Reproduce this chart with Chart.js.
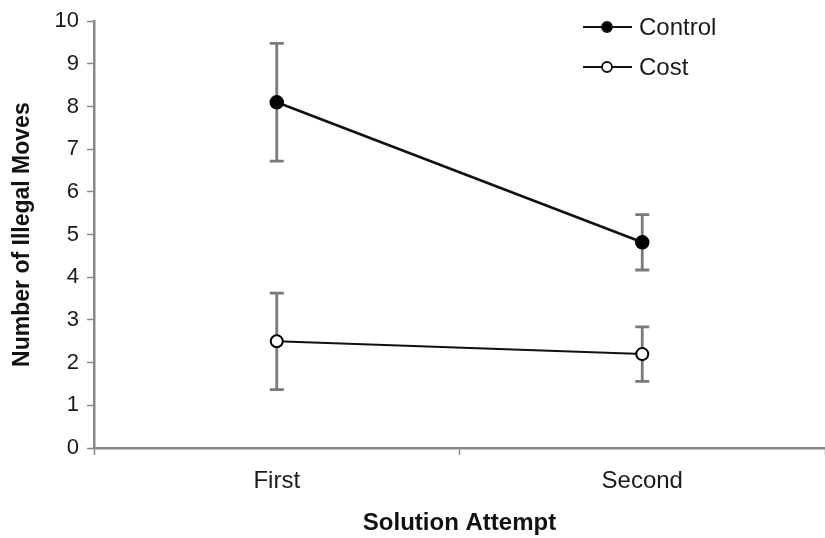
<!DOCTYPE html>
<html>
<head>
<meta charset="utf-8">
<script src="https://cdn.jsdelivr.net/npm/chart.js@4"></script>
<style>
    html, body { margin: 0; padding: 0; background: #fff; }
    #wrap { width: 825px; height: 538px; }
</style>
</head>
<body>
<div id="wrap"><canvas id="movesChart"></canvas></div>
<script>
const categories = ['First', 'Second'];
const seriesNames = ['Control', 'Cost'];
const controlMeans = [8.1, 4.82];
const controlErrors = [1.38, 0.65];
const costMeans = [2.5, 2.2];
const costErrors = [1.13, 0.64];
const yTicks = [0, 1, 2, 3, 4, 5, 6, 7, 8, 9, 10];

const fontFamily = '"Liberation Sans", Arial, sans-serif';

// error bars drawn under the markers
const errorBars = {
    id: 'errorBars',
    beforeDatasetsDraw(chart) {
        let ctx = chart.ctx;
        let x = chart.scales.x;
        let y = chart.scales.y;
        ctx.save();
        ctx.strokeStyle = '#7a7a7a';
        ctx.lineWidth = 2.8;
        chart.data.datasets.forEach(ds => {
            ds.data.forEach((v, i) => {
                let px = x.getPixelForValue(i);
                let top = y.getPixelForValue(v + ds.errors[i]);
                let bot = y.getPixelForValue(v - ds.errors[i]);
                ctx.beginPath();
                ctx.moveTo(px, top); ctx.lineTo(px, bot);
                ctx.moveTo(px - 7, top); ctx.lineTo(px + 7, top);
                ctx.moveTo(px - 7, bot); ctx.lineTo(px + 7, bot);
                ctx.stroke();
            });
        });
        ctx.restore();
    }
};

// legend with line + marker, placed inside the plot
const lineLegend = {
    id: 'lineLegend',
    afterDraw(chart) {
        let ctx = chart.ctx;
        ctx.save();
        chart.data.datasets.forEach((ds, i) => {
            let cy = 27 + i * 40;
            ctx.strokeStyle = '#111';
            ctx.lineWidth = 2.2;
            ctx.beginPath();
            ctx.moveTo(583, cy); ctx.lineTo(632, cy);
            ctx.stroke();
            ctx.beginPath();
            ctx.arc(607, cy, 5, 0, Math.PI * 2);
            ctx.fillStyle = ds.pointBackgroundColor;
            ctx.fill();
            ctx.lineWidth = 1.8;
            ctx.stroke();
            ctx.fillStyle = '#1a1a1a';
            ctx.font = '24px ' + fontFamily;
            ctx.textBaseline = 'middle';
            ctx.fillText(ds.label, 639, cy + 1);
        });
        ctx.restore();
    }
};

let ctx = document.getElementById('movesChart').getContext('2d');
let myChart = new Chart(ctx, {
    type: 'line',
    data: {
        labels: categories,
        datasets: [{
            label: seriesNames[0],
            data: controlMeans,
            errors: controlErrors,
            borderColor: '#111',
            borderWidth: 2.5,
            pointRadius: 6.5,
            pointBackgroundColor: '#000',
            pointBorderColor: '#000',
            pointBorderWidth: 1.5
        }, {
            label: seriesNames[1],
            data: costMeans,
            errors: costErrors,
            borderColor: '#111',
            borderWidth: 2,
            pointRadius: 6,
            pointBackgroundColor: '#fff',
            pointBorderColor: '#000',
            pointBorderWidth: 2
        }]
    },
    options: {
        responsive: true,
        maintainAspectRatio: false,
        animation: false,
        layout: { autoPadding: false, padding: { top: 18, right: -4, left: 0, bottom: 0 } },
        plugins: {
            legend: { display: false },
            tooltip: { enabled: false }
        },
        scales: {
            x: {
                offset: true,
                grid: { offset: true, drawOnChartArea: false, color: '#888', tickLength: 7, tickWidth: 1.5 },
                border: { color: '#888', width: 2.5 },
                ticks: { color: '#1a1a1a', padding: 12, font: { family: fontFamily, size: 24 } },
                title: {
                    display: true, text: 'Solution Attempt', color: '#111', padding: { top: 0, bottom: 0 },
                    font: { family: fontFamily, size: 24, weight: 'bold' }
                },
                afterFit(scale) { scale.height = 90; }
            },
            y: {
                min: 0,
                max: 10,
                afterBuildTicks(scale) { scale.ticks = yTicks.map(v => ({ value: v })); },
                grid: { drawOnChartArea: false, color: '#888', tickLength: 7, tickWidth: 1.5 },
                border: { color: '#888', width: 2.5 },
                ticks: { color: '#1a1a1a', padding: 8, font: { family: fontFamily, size: 22 } },
                title: {
                    display: true, text: 'Number of Illegal Moves', color: '#111', padding: { top: 9, bottom: 0 },
                    font: { family: fontFamily, size: 23, weight: 'bold' }
                },
                afterFit(scale) { scale.width = 94; }
            }
        }
    },
    plugins: [errorBars, lineLegend]
});
</script>
</body>
</html>
